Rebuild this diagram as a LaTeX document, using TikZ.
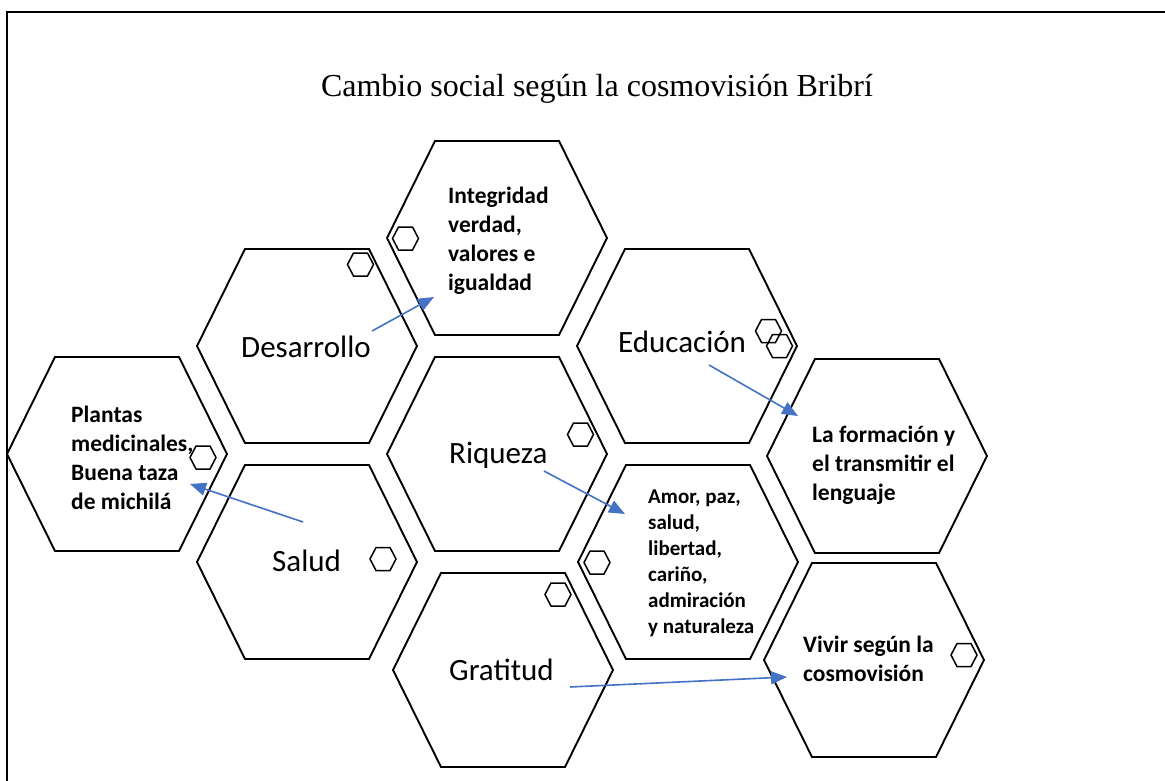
\documentclass[tikz,border=0pt]{standalone}
\usepackage{fontspec}
\setmainfont{Carlito}
\newfontfamily\titlefont{Liberation Serif}
\usetikzlibrary{arrows.meta}
\definecolor{linkblue}{HTML}{4472C4}

\tikzset{
  bighex/.pic={\draw[line width=1.9pt,line join=miter] (-110,0) -- (-62,-97) -- (62,-97) -- (110,0) -- (62,97) -- (-62,97) -- cycle;},
  smallhex/.pic={\draw[line width=1.5pt] (-13,0) -- (-7,-11.5) -- (7,-11.5) -- (13,0) -- (7,11.5) -- (-7,11.5) -- cycle;},
  keyword/.style={font=\fontsize{31}{37}\selectfont,anchor=base west,inner sep=0pt},
  detail/.style={font=\bfseries\fontsize{23.5}{29}\selectfont,align=left,anchor=base west,inner sep=0pt},
  link/.style={draw=linkblue,line width=1.6pt,-{Triangle[length=16pt,width=13pt]}}
}

\begin{document}
\begin{tikzpicture}[x=1pt,y=-1pt]
            \useasboundingbox (0,0) rectangle (1165,781);
            \draw[line width=1.6pt] (1165,12) -- (7,12) -- (7,781);
            \node[font=\titlefont\fontsize{32}{38}\selectfont,anchor=base,inner sep=0pt] (title) at (597,97) {Cambio social según la cosmovisión Bribrí};
            \pic at (497,238) {bighex};
            \pic at (307,346) {bighex};
            \pic at (687,346) {bighex};
            \pic at (117,454) {bighex};
            \pic at (497,454) {bighex};
            \pic at (877,456) {bighex};
            \pic at (307,562) {bighex};
            \pic at (688,562) {bighex};
            \pic at (503,670) {bighex};
            \pic at (874,660) {bighex};
            \foreach \p in {(405.5,238.5),(360.5,264.5),(580.5,434.5),(768.5,331),(779.5,346),(203,457.5),(383,559),(597,562.5),(558,594.5),(964,655)}
                \pic at \p {smallhex};
            \node[detail] (integridad) at (448,290) {Integridad\\verdad,\\valores e\\igualdad};
            \node[keyword] (desarrollo) at (241,357) {Desarrollo};
            \node[keyword] (educacion) at (618,352) {Educación};
            \node[detail] (formacion) at (812,500) {La formación y\\el transmitir el\\lenguaje};
            \node[keyword] (riqueza) at (449,463) {Riqueza};
            \node[detail,font=\bfseries\fontsize{21}{26}\selectfont] (amor) at (648,633) {Amor, paz,\\salud,\\libertad,\\cariño,\\admiración\\y naturaleza};
            \node[detail] (plantas) at (71,509) {Plantas\\medicinales,\\Buena taza\\de michilá};
            \node[keyword] (salud) at (272,571) {Salud};
            \node[keyword] (gratitud) at (449,680) {Gratitud};
            \node[detail] (vivir) at (803,681) {Vivir según la\\cosmovisión};
            \coordinate (desFrom) at (372,331);
            \coordinate (intTo) at (434,297);
            \coordinate (eduFrom) at (709,365);
            \coordinate (forTo) at (798,416);
            \coordinate (riqFrom) at (544,471);
            \coordinate (amoTo) at (625,514);
            \coordinate (salFrom) at (303,522);
            \coordinate (plaTo) at (190,484);
            \coordinate (graFrom) at (570,687);
            \coordinate (vivTo) at (787,677);
            \draw[link] (desFrom) -- (intTo);
            \draw[link] (eduFrom) -- (forTo);
            \draw[link] (riqFrom) -- (amoTo);
            \draw[link] (salFrom) -- (plaTo);
            \draw[link] (graFrom) -- (vivTo);
        \end{tikzpicture}
\end{document}
